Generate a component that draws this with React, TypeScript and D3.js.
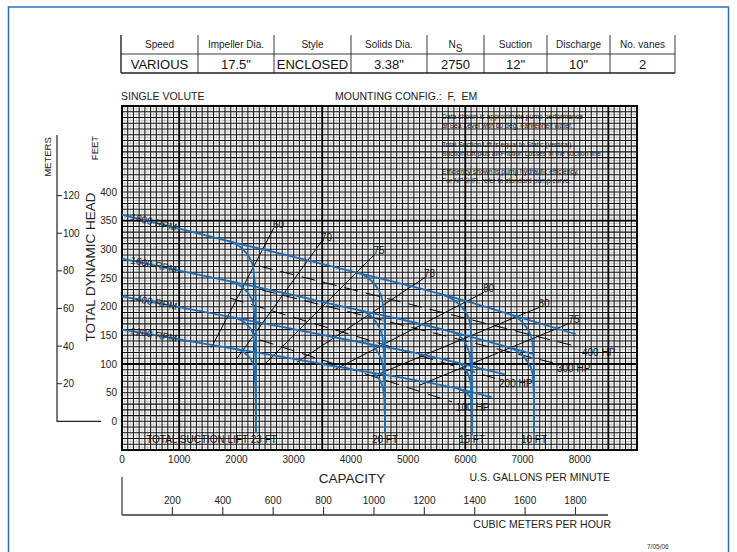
import React from "react";
import * as d3 from "d3";

// header table
const tableHeaders = ["Speed", "Impeller Dia.", "Style", "Solids Dia.", "N", "Suction", "Discharge", "No. vanes"];
const tableValues = ["VARIOUS", '17.5"', "ENCLOSED", '3.38"', "2750", '12"', '10"', "2"];

// axis ticks
const gpmTicks = [0, 1000, 2000, 3000, 4000, 5000, 6000, 7000, 8000];
const feetTicks = [0, 50, 100, 150, 200, 250, 300, 350, 400];
const meterTicks = [20, 40, 60, 80, 100, 120];
const cmhTicks = [200, 400, 600, 800, 1000, 1200, 1400, 1600, 1800];

// heavy graph-paper rulings
const heavyGpm = [1000, 3500, 6000, 8500];
const heavyFeet = [100, 350];

// head-capacity curves [gpm, ft]
const speedLabels = ["1800 RPM", "1600 RPM", "1400 RPM", "1200 RPM"];
const head1800 = [[0, 360], [1000, 336], [2000, 311], [3000, 287], [4000, 262], [5000, 237], [6000, 210], [7000, 180], [7930, 152]];
const head1600 = [[0, 284], [1000, 263], [2000, 242], [3000, 220], [4000, 197], [5000, 175], [6000, 150], [7190, 117]];
const head1400 = [[0, 218], [1000, 199], [2000, 180], [3000, 161], [4000, 141], [5000, 122], [6000, 99], [6690, 82]];
const head1200 = [[0, 160], [1000, 143], [2000, 126], [3000, 109], [4000, 91], [5000, 74], [6000, 54], [6460, 42]];

// suction lift limits: vertical gpm, knees [speed index, start gpm, vertical gpm, ft where vertical]
const liftLabels = ["TOTAL SUCTION LIFT 23 FT", "20 FT", "15 FT", "10 FT"];
const liftCapacity = [2340, 4596, 6117, 7200];
const knees23 = [[0, 1850, 2300, 260], [1, 1870, 2300, 198], [2, 1940, 2300, 145], [3, 1975, 2310, 89]];
const knees20 = [[0, 4107, 4560, 201], [1, 4160, 4560, 136], [2, 4282, 4570, 84], [3, 4334, 4580, 43]];
const knees15 = [[0, 5592, 6090, 164], [1, 5785, 6090, 102], [2, 5855, 6100, 55], [3, 5872, 6105, 35]];
const knees10 = [[0, 6781, 7180, 130], [1, 6746, 7180, 77]];
const liftBottom = -20;

// efficiency lines
const effLabels = ["60", "70", "75", "78", "80", "80", "75"];
const effStart = [[1564, 129], [2010, 110], [2517, 102], [3058, 103], [3716, 90], [4474, 82], [5201, 63]];
const effEnd = [[2656, 338], [3495, 315], [4413, 291], [5295, 251], [6327, 225], [7296, 199], [7821, 171]];

// horsepower lines
const hpLabels = ["400 HP", "300 HP", "200 HP", "100 HP"];
const hpStart = [[2394, 271], [2447, 229], [1887, 215], [2412, 142]];
const hpEnd = [[7969, 130], [7532, 102], [6519, 75], [5767, 34]];

const notes = [
  "Data shown is approximate pump performance",
  "at Sea Level with 60 deg. Fahrenheit water.",
  "Total Suction Lift is equal to Static (vertical)",
  "Suction Lift plus all Friction Losses in the suction line.",
  "Efficiency shown is pump hydraulic efficiency.",
  "For NPSHR, refer to standard pump curve.",
];

const FONT = "'Liberation Sans', Arial, Helvetica, sans-serif";
const BLUE = "#1f6db3";

export default function App() {
  const x = d3.scaleLinear().domain([0, 9000]).range([122, 637]);
  const y = d3.scaleLinear().domain([-50, 550]).range([450, 106]);
  const yM = (m: number) => y(m * 3.28084);
  const xC = (c: number) => x(c * 4.40287);

  const heads = [head1800, head1600, head1400, head1200];
  const headFn = heads.map((c) =>
    d3.scaleLinear().domain(c.map((d) => d[0])).range(c.map((d) => d[1]))
  );
  const line = d3
    .line<number[]>()
    .x((d) => x(d[0]))
    .y((d) => y(d[1]))
    .curve(d3.curveMonotoneX);

  const kneeGroups = [knees23, knees20, knees15, knees10];
  const kneePath = (k: number[], qB: number) => {
    const [si, qs, qv, hv] = k;
    const h = headFn[si];
    const q1 = qs + 0.55 * (qv - qs);
    const p = d3.path();
    p.moveTo(x(qs), y(h(qs)));
    p.bezierCurveTo(x(q1), y(h(q1)), x(qv), y(hv + 0.55 * (h(qv) - hv)), x(qv), y(hv));
    p.quadraticCurveTo(x(qB), y(hv - 25), x(qB), y(hv - 60));
    p.lineTo(x(qB), y(liftBottom));
    return p.toString();
  };

  // grid: rulings every 100 gpm / 10 ft, light rulings halfway between
  const vLines = d3.range(0, 9001, 100);
  const hLines = d3.range(-50, 551, 10);
  const vHalf = d3.range(50, 9000, 100);
  const hHalf = d3.range(-45, 550, 10);

  const colX = [121, 198, 274, 351, 427, 484, 547, 610, 675];

  return (
    <svg
      width={737}
      height={552}
      style={{ position: "absolute", left: 0, top: 0, background: "#fff" }}
      fontFamily={FONT}
    >
      <rect x={8.5} y={7} width={720} height={560} fill="#fff" stroke="#2f6fc0" strokeWidth={1.5} />

      {/* header table */}
      <g stroke="#222">
        {colX.map((cx, i) => (
          <line key={i} x1={cx} x2={cx} y1={35} y2={73} strokeWidth={i === 0 ? 1.4 : 0.9} />
        ))}
        <line x1={121} x2={675} y1={54} y2={54} strokeWidth={0.9} />
        <line x1={121} x2={675} y1={73} y2={73} strokeWidth={1.4} />
      </g>
      {tableHeaders.map((t, i) => (
        <text key={i} x={(colX[i] + colX[i + 1]) / 2} y={48} fontSize={10} textAnchor="middle" fill="#222">
          {t}
          {t === "N" && (
            <tspan dy={4} fontSize={10}>
              S
            </tspan>
          )}
        </text>
      ))}
      {tableValues.map((t, i) => (
        <text key={i} x={(colX[i] + colX[i + 1]) / 2} y={69} fontSize={13} textAnchor="middle" fill="#111">
          {t}
        </text>
      ))}

      <text x={121} y={100} fontSize={10.5} fill="#222">SINGLE VOLUTE</text>
      <text x={335} y={100} fontSize={10.5} fill="#222" style={{ whiteSpace: "pre" }}>
        MOUNTING CONFIG.:  F,  EM
      </text>

      {/* grid */}
      <g>
        {vHalf.map((v) => (
          <line key={"vl" + v} x1={x(v)} x2={x(v)} y1={106} y2={450} stroke="#bdbdbd" strokeWidth={0.7} />
        ))}
        {hHalf.map((h) => (
          <line key={"hl" + h} x1={122} x2={637} y1={y(h)} y2={y(h)} stroke="#bdbdbd" strokeWidth={0.7} />
        ))}
        {vLines.map((v) => (
          <line key={"v" + v} x1={x(v)} x2={x(v)} y1={106} y2={450} stroke="#111" strokeWidth={1.05} />
        ))}
        {hLines.map((h) => (
          <line key={"h" + h} x1={122} x2={637} y1={y(h)} y2={y(h)} stroke="#111" strokeWidth={1.05} />
        ))}
        {heavyGpm.map((v) => (
          <line key={"vh" + v} x1={x(v)} x2={x(v)} y1={106} y2={450} stroke="#000" strokeWidth={1.8} />
        ))}
        {heavyFeet.map((h) => (
          <line key={"hh" + h} x1={122} x2={637} y1={y(h)} y2={y(h)} stroke="#000" strokeWidth={1.8} />
        ))}
        <rect x={122} y={106} width={515} height={344} fill="none" stroke="#000" strokeWidth={2} />
      </g>

      {/* notes */}
      {notes.map((n, i) => (
        <text key={i} x={442} y={[118.5, 127.5, 146.5, 155.5, 173.5, 182.5][i]} fontSize={6.8} fill="#111">
          {n}
        </text>
      ))}

      {/* efficiency lines */}
      {effLabels.map((l, i) => (
        <g key={"e" + i}>
          <line x1={x(effStart[i][0])} y1={y(effStart[i][1])} x2={x(effEnd[i][0])} y2={y(effEnd[i][1])} stroke="#000" strokeWidth={1} />
          <text x={x(effEnd[i][0]) - 1} y={y(effEnd[i][1])} fontSize={10} fill="#111">
            {l}
          </text>
        </g>
      ))}

      {/* horsepower lines */}
      {hpLabels.map((l, i) => (
        <g key={"p" + i}>
          <line
            x1={x(hpStart[i][0])}
            y1={y(hpStart[i][1])}
            x2={x(hpEnd[i][0])}
            y2={y(hpEnd[i][1])}
            stroke="#000"
            strokeWidth={1}
            strokeDasharray="14 8"
          />
          <text x={x(hpEnd[i][0]) + 4} y={y(hpEnd[i][1]) + 9} fontSize={10} fill="#111">
            {l}
          </text>
        </g>
      ))}

      {/* head curves */}
      {heads.map((c, i) => (
        <path key={"c" + i} d={line(c) || ""} fill="none" stroke={BLUE} strokeWidth={1.8} />
      ))}
      {speedLabels.map((l, i) => {
        const q0 = 140;
        const q1 = 1400;
        const a = (Math.atan2(y(headFn[i](q1)) - y(headFn[i](q0)), x(q1) - x(q0)) * 180) / Math.PI;
        const px = x(q0);
        const py = y(headFn[i](q0)) + 3;
        return (
          <text key={"s" + i} x={px} y={py} fontSize={10} fill="#222" transform={`rotate(${a},${px},${py})`}>
            {l}
          </text>
        );
      })}

      {/* suction lift curves */}
      {kneeGroups.map((g, gi) =>
        g.map((k, ki) => (
          <path key={"k" + gi + ki} d={kneePath(k, liftCapacity[gi])} fill="none" stroke={BLUE} strokeWidth={1.8} />
        ))
      )}
      {liftLabels.map((l, i) => (
        <text
          key={"l" + i}
          x={i === 0 ? x(liftCapacity[0]) + 21 : x(liftCapacity[i])}
          y={443}
          fontSize={10}
          textAnchor={i === 0 ? "end" : "middle"}
          fill="#111"
        >
          {l}
        </text>
      ))}

      {/* feet axis */}
      {feetTicks.map((t) => (
        <text key={"f" + t} x={117} y={y(t) + 3.5} fontSize={10} textAnchor="end" fill="#222">
          {t}
        </text>
      ))}
      <text transform="translate(98,148) rotate(-90)" fontSize={9.5} textAnchor="middle" fill="#222">
        FEET
      </text>

      {/* meters axis */}
      <line x1={57} x2={57} y1={135} y2={yM(0)} stroke="#222" strokeWidth={1.2} />
      <line x1={56.5} x2={101} y1={yM(0)} y2={yM(0)} stroke="#222" strokeWidth={1.2} />
      {meterTicks.map((t) => (
        <g key={"m" + t}>
          <line x1={57} x2={62} y1={yM(t)} y2={yM(t)} stroke="#222" strokeWidth={1} />
          <text x={63} y={yM(t) + 3.5} fontSize={10} fill="#222">
            {t}
          </text>
        </g>
      ))}
      <text transform="translate(51,157) rotate(-90)" fontSize={9.5} textAnchor="middle" fill="#222">
        METERS
      </text>
      <text transform="translate(95,267) rotate(-90)" fontSize={13.5} textAnchor="middle" fill="#222">
        TOTAL DYNAMIC HEAD
      </text>

      {/* gpm axis */}
      {gpmTicks.map((t) => (
        <text key={"g" + t} x={x(t)} y={463} fontSize={10} textAnchor="middle" fill="#222">
          {t}
        </text>
      ))}
      <text x={352} y={483} fontSize={13.5} textAnchor="middle" fill="#222">
        CAPACITY
      </text>
      <text x={610} y={481} fontSize={10.5} textAnchor="end" fill="#222">
        U.S. GALLONS PER MINUTE
      </text>

      {/* cubic meters axis */}
      <line x1={122} x2={122} y1={477} y2={515} stroke="#333" strokeWidth={1.2} />
      <line x1={122} x2={608} y1={515} y2={515} stroke="#333" strokeWidth={1.4} />
      {cmhTicks.map((t) => (
        <g key={"c" + t}>
          <line x1={xC(t)} x2={xC(t)} y1={507} y2={515} stroke="#333" strokeWidth={1.1} />
          <text x={xC(t)} y={504} fontSize={10} textAnchor="middle" fill="#222">
            {t}
          </text>
        </g>
      ))}
      <text x={611} y={528} fontSize={10.5} textAnchor="end" fill="#222">
        CUBIC METERS PER HOUR
      </text>

      <text x={647} y={549} fontSize={6.5} fill="#333">
        7/05/06
      </text>
    </svg>
  );
}
